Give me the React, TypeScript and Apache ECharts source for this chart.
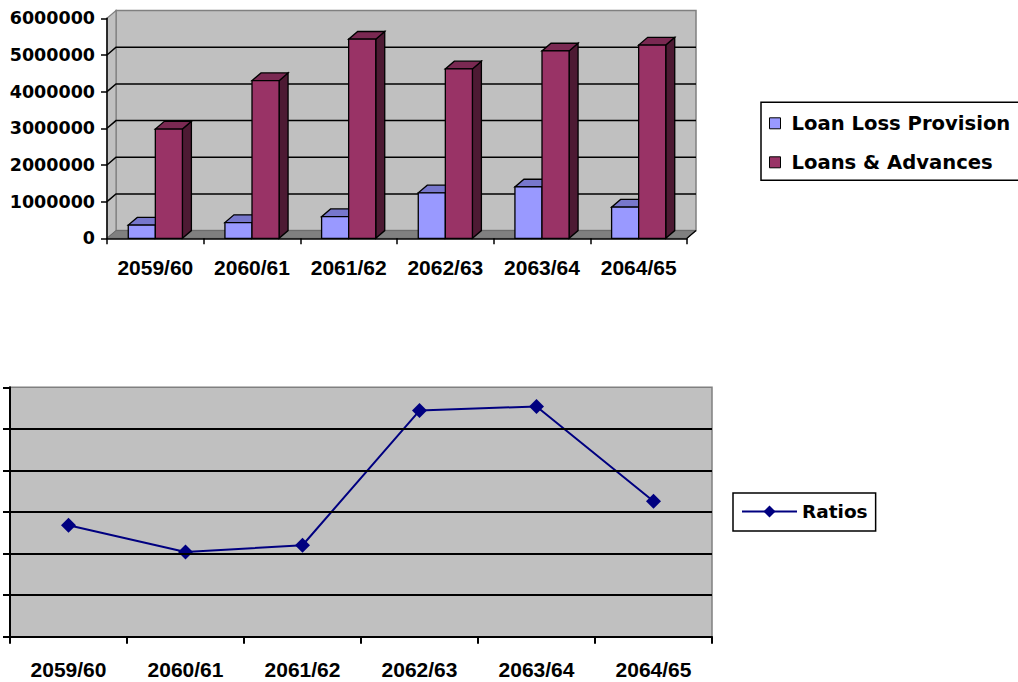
import React, { useEffect, useRef } from "react";
import * as echarts from "echarts";

const categories = ["2059/60", "2060/61", "2061/62", "2062/63", "2063/64", "2064/65"];
const loanLossProvision = [360000, 430000, 590000, 1240000, 1400000, 850000];
const loansAdvances = [2980000, 4300000, 5430000, 4620000, 5110000, 5270000];
const ratios = [13.4, 10.2, 11.0, 27.2, 27.7, 16.3];
const barTicks = [0, 1000000, 2000000, 3000000, 4000000, 5000000, 6000000];

const DX = 9;
const DY = -7.7;

function wallsRenderItem(params: any, api: any) {
  const cs = params.coordSys;
  const L = cs.x, T = cs.y, R = cs.x + cs.width, B = cs.y + cs.height;
  const v = api.value(1);
  const y = api.coord([0, v])[1];
  const children: any[] = [];
  if (params.dataIndex === 0) {
    children.push({
      type: "rect",
      shape: { x: L + DX, y: T + DY, width: R - L, height: B - T },
      style: { fill: "#C0C0C0", stroke: "#808080", lineWidth: 1.5 },
    });
    children.push({
      type: "polygon",
      shape: { points: [[L, T], [L + DX, T + DY], [L + DX, B + DY], [L, B]] },
      style: { fill: "#C0C0C0", stroke: "#808080", lineWidth: 1.2 },
    });
    children.push({
      type: "polygon",
      shape: { points: [[L, B], [R, B], [R + DX, B + DY], [L + DX, B + DY]] },
      style: { fill: "#808080", stroke: "#6a6a6a", lineWidth: 1 },
    });
    children.push({
      type: "line",
      shape: { x1: R, y1: B, x2: R + DX, y2: B + DY },
      style: { stroke: "#000", lineWidth: 1.3 },
    });
  }
  const max = barTicks[barTicks.length - 1];
  if (v > 0 && v < max) {
    children.push({
      type: "polyline",
      shape: { points: [[L, y], [L + DX, y + DY], [R + DX, y + DY]] },
      style: { stroke: "#000", lineWidth: 1.5, fill: "none" },
    });
  }
  return { type: "group", children };
}

function makeBarRender(offset: number, front: string, topC: string, side: string) {
  return function (params: any, api: any) {
    const idx = api.value(0);
    const v = api.value(1);
    const base = api.coord([idx, 0]);
    const top = api.coord([idx, v]);
    const catW = api.size([1, 0])[0];
    const w = catW * 0.28;
    const x0 = base[0] + offset * w;
    const yT = top[1];
    const yB = base[1];
    const st = { stroke: "#000", lineWidth: 1.3 };
    return {
      type: "group",
      children: [
        {
          type: "polygon",
          shape: { points: [[x0 + w, yT], [x0 + w + DX, yT + DY], [x0 + w + DX, yB + DY], [x0 + w, yB]] },
          style: { fill: side, ...st },
        },
        {
          type: "polygon",
          shape: { points: [[x0, yT], [x0 + w, yT], [x0 + w + DX, yT + DY], [x0 + DX, yT + DY]] },
          style: { fill: topC, ...st },
        },
        {
          type: "rect",
          shape: { x: x0, y: yT, width: w, height: yB - yT },
          style: { fill: front, ...st },
        },
      ],
    };
  };
}

export default function App() {
  const ref = useRef<HTMLDivElement>(null);
  useEffect(() => {
    if (!ref.current) return;
    const chart = echarts.init(ref.current, undefined, { renderer: "svg" });
    const xLabel = {
      fontFamily: "Liberation Sans",
      fontWeight: "bold" as const,
      fontSize: 21,
      color: "#000",
      interval: 0,
    };
    chart.setOption({
      animation: false,
      backgroundColor: "#ffffff",
      grid: [
        { left: 107, top: 18.3, width: 580, height: 220, show: false, outerBoundsMode: "none", containLabel: false },
        {
          left: 10,
          top: 387.3,
          width: 702,
          height: 249.4,
          show: true,
          backgroundColor: "#C0C0C0",
          borderColor: "#808080",
          borderWidth: 1.5,
          outerBoundsMode: "none",
          containLabel: false,
        },
      ],
      legend: [
        {
          orient: "vertical",
          left: 761,
          top: 102.3,
          padding: [11, 20, 8, 8],
          itemGap: 19,
          itemWidth: 11,
          itemHeight: 11,
          borderColor: "#000",
          borderWidth: 1.5,
          backgroundColor: "#fff",
          textStyle: {
            fontFamily: "DejaVu Sans",
            fontWeight: "bold",
            fontSize: 19.6,
            color: "#000",
            padding: [0, 0, 0, 6],
          },
          data: [
            { name: "Loan Loss Provision", icon: "rect", itemStyle: { color: "#9999FF", borderColor: "#000", borderWidth: 1 } },
            { name: "Loans & Advances", icon: "rect", itemStyle: { color: "#993366", borderColor: "#000", borderWidth: 1 } },
          ],
        },
        {
          orient: "vertical",
          left: 733,
          top: 493,
          padding: [9, 8, 10, 8],
          itemWidth: 55,
          itemHeight: 15,
          borderColor: "#000",
          borderWidth: 1.5,
          backgroundColor: "#fff",
          textStyle: {
            fontFamily: "DejaVu Sans",
            fontWeight: "bold",
            fontSize: 18.5,
            color: "#000",
          },
          data: ["Ratios"],
        },
      ],
      xAxis: [
        {
          type: "category",
          gridIndex: 0,
          data: categories,
          boundaryGap: true,
          z: 10,
          axisLine: { show: true, lineStyle: { color: "#000", width: 1.5 } },
          axisTick: { show: true, length: 6, interval: 0, lineStyle: { color: "#000", width: 1.5 } },
          axisLabel: { ...xLabel, margin: 19 },
          splitLine: { show: false },
        },
        {
          type: "category",
          gridIndex: 1,
          data: categories,
          boundaryGap: true,
          z: 10,
          axisLine: { show: true, lineStyle: { color: "#000", width: 2 } },
          axisTick: { show: true, length: 7, interval: 0, lineStyle: { color: "#000", width: 2 } },
          axisLabel: { ...xLabel, margin: 22 },
          splitLine: { show: false },
        },
      ],
      yAxis: [
        {
          type: "value",
          gridIndex: 0,
          min: 0,
          max: 6000000,
          interval: 1000000,
          z: 10,
          axisLine: { show: true, lineStyle: { color: "#000", width: 1.5 } },
          axisTick: { show: true, length: 6, lineStyle: { color: "#000", width: 1.5 } },
          axisLabel: {
            fontFamily: "DejaVu Sans",
            fontWeight: "bold",
            fontSize: 17.5,
            color: "#000",
            margin: 12,
            formatter: (v: number) => String(v),
          },
          splitLine: { show: false },
        },
        {
          type: "value",
          gridIndex: 1,
          min: 0,
          max: 30,
          interval: 5,
          z: 10,
          axisLine: { show: true, lineStyle: { color: "#000", width: 2 } },
          axisTick: { show: true, length: 7, lineStyle: { color: "#000", width: 2 } },
          axisLabel: { show: false },
          splitLine: { show: true, showMinLine: false, showMaxLine: false, lineStyle: { color: "#000", width: 1.8 } },
        },
      ],
      series: [
        {
          type: "custom",
          name: "walls",
          xAxisIndex: 0,
          yAxisIndex: 0,
          z: 1,
          clip: false,
          silent: true,
          encode: { x: 0, y: 1 },
          data: barTicks.map((v) => [0, v]),
          renderItem: wallsRenderItem,
        },
        {
          type: "custom",
          name: "Loan Loss Provision",
          xAxisIndex: 0,
          yAxisIndex: 0,
          z: 3,
          clip: false,
          itemStyle: { color: "#9999FF" },
          encode: { x: 0, y: 1 },
          data: loanLossProvision.map((v, i) => [i, v]),
          renderItem: makeBarRender(-1, "#9999FF", "#7777CC", "#55558F"),
        },
        {
          type: "custom",
          name: "Loans & Advances",
          xAxisIndex: 0,
          yAxisIndex: 0,
          z: 4,
          clip: false,
          itemStyle: { color: "#993366" },
          encode: { x: 0, y: 1 },
          data: loansAdvances.map((v, i) => [i, v]),
          renderItem: makeBarRender(0, "#993366", "#7A2952", "#4D1A33"),
        },
        {
          type: "line",
          name: "Ratios",
          xAxisIndex: 1,
          yAxisIndex: 1,
          data: ratios,
          symbol: "diamond",
          symbolSize: 15,
          color: "#000080",
          lineStyle: { color: "#000080", width: 2 },
          itemStyle: { color: "#000080" },
          z: 5,
        },
      ],
    });
    return () => chart.dispose();
  }, []);
  return (
    <div
      ref={ref}
      style={{ position: "absolute", left: 0, top: 0, width: 1018, height: 682 }}
    />
  );
}
